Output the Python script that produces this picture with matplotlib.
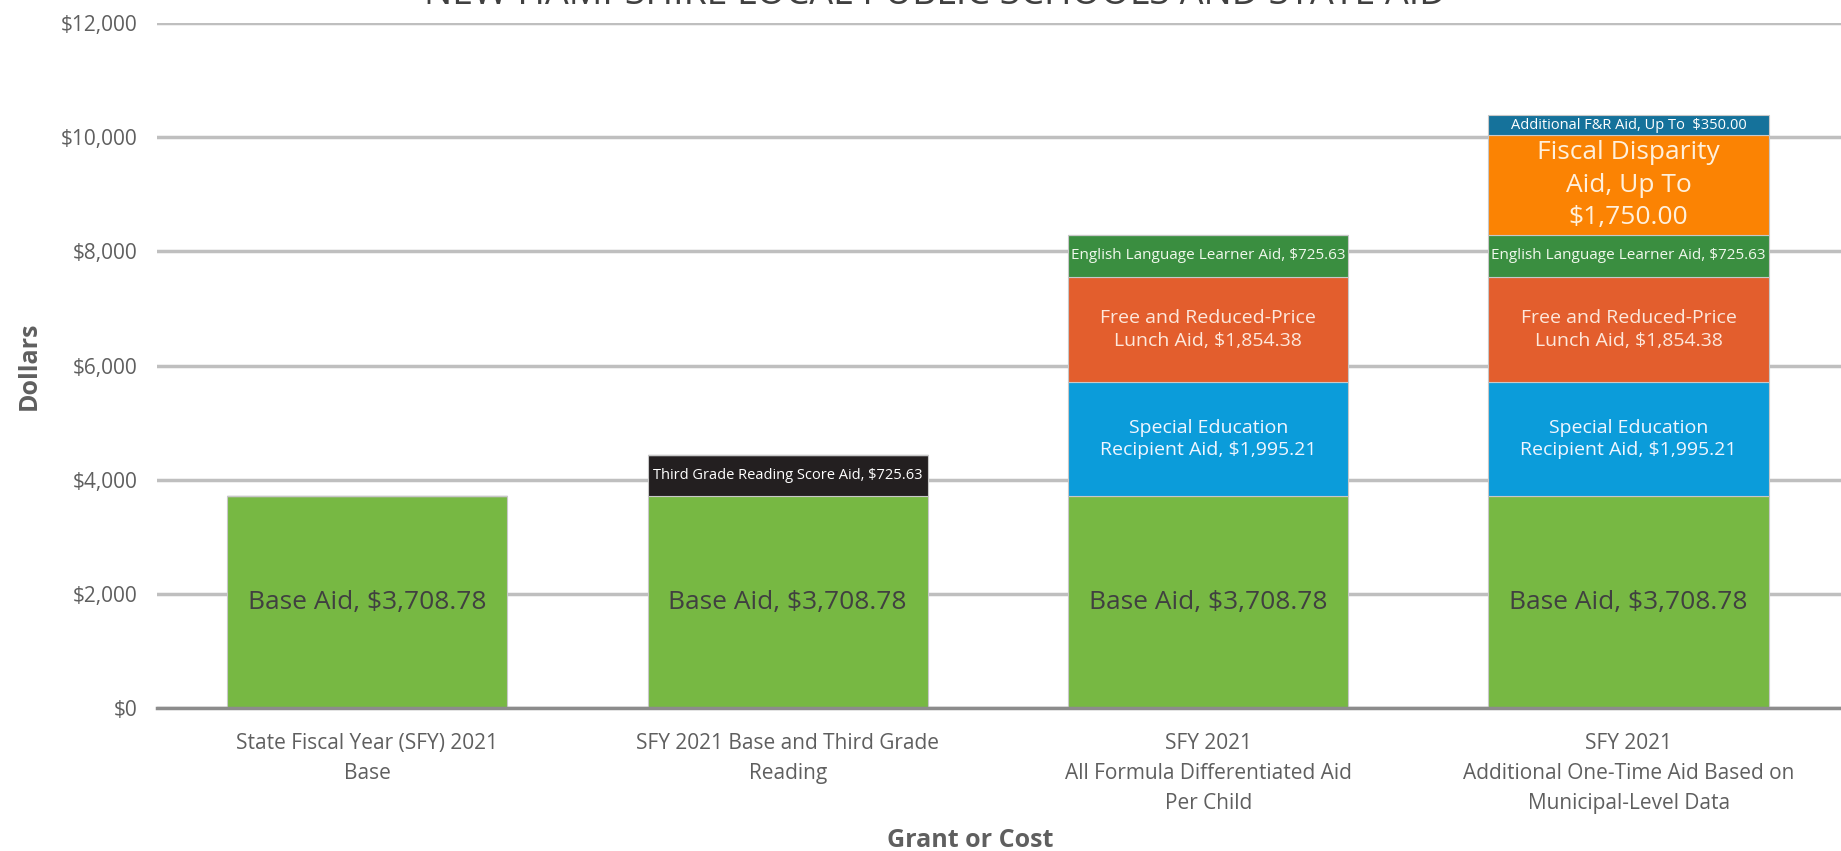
import matplotlib.pyplot as plt
import numpy as np

# categories and segment values (dollars per pupil)
categories = ["State Fiscal Year (SFY) 2021\nBase",
              "SFY 2021 Base and Third Grade\nReading",
              "SFY 2021\nAll Formula Differentiated Aid\nPer Child",
              "SFY 2021\nAdditional One-Time Aid Based on\nMunicipal-Level Data"]
base_aid = [3708.78, 3708.78, 3708.78, 3708.78]
third_grade = [0, 725.63, 0, 0]
special_ed = [0, 0, 1995.21, 1995.21]
free_reduced = [0, 0, 1854.38, 1854.38]
ell_aid = [0, 0, 725.63, 725.63]
fiscal_disparity = [0, 0, 0, 1750.00]
additional_fr = [0, 0, 0, 350.00]

yticks = [0, 2000, 4000, 6000, 8000, 10000, 12000]

plt.rcParams['font.family'] = ['Open Sans', 'DejaVu Sans']
grey = "#5f5f5f"

fig = plt.figure(figsize=(18.41, 8.51), dpi=100)
ax = fig.add_axes([0.0853, 0.168, 0.9147, 0.805])

x = np.arange(len(categories))
w = 0.667

segments = [
    (base_aid, "#77b843", "Base Aid, $3,708.78", 19, "#404040", 1.2),
    (third_grade, "#231f20", "Third Grade Reading Score Aid, $725.63", 10.5, "white", 1.2),
    (special_ed, "#0b9cda", "Special Education\nRecipient Aid, $1,995.21", 14, "#f0f6ff", 1.3),
    (free_reduced, "#e35e2d", "Free and Reduced-Price\nLunch Aid, $1,854.38", 14, "#fde8dc", 1.3),
    (ell_aid, "#3a8e40", "English Language Learner Aid, $725.63", 11, "#f0f8ec", 1.2),
    (fiscal_disparity, "#fb8303", "Fiscal Disparity\nAid, Up To\n$1,750.00", 19, "#fff0dc", 1.4),
    (additional_fr, "#15729b", "Additional F&R Aid, Up To  $350.00", 10.5, "white", 1.2),
]

bottom = np.zeros(len(categories))
for vals, color, label, fs, tcol, ls in segments:
    vals = np.array(vals)
    ax.bar(x, vals, w, bottom=bottom, color=color, edgecolor="#c8c8c8",
           linewidth=0.8, zorder=3)
    for i in range(len(x)):
        if vals[i] > 0:
            ax.text(x[i], bottom[i] + vals[i] / 2, label, ha="center", va="center",
                    fontsize=fs, color=tcol, zorder=4, linespacing=ls)
    bottom = bottom + vals

ax.set_xlim(-0.5, 3.505)
ax.set_ylim(0, 12000)
ax.set_yticks(yticks)
ax.set_yticklabels(["${:,}".format(v) for v in yticks], fontsize=15, color=grey)
ax.set_xticks(x)
ax.set_xticklabels(categories, fontsize=15, color=grey, linespacing=1.55)
ax.tick_params(axis="y", length=0, pad=14)
ax.tick_params(axis="x", length=0, pad=18)
ax.grid(axis="y", color="#bfbfbf", linewidth=2.5, zorder=0)
for s in ["top", "right", "left"]:
    ax.spines[s].set_visible(False)
ax.spines["bottom"].set_color("#8c8c8c")
ax.spines["bottom"].set_linewidth(2.5)
ax.spines["bottom"].set_zorder(5)

ax.set_ylabel("Dollars", fontsize=18, fontweight="bold", color=grey, labelpad=14)
fig.text(0.527, -0.002, "Grant or Cost", ha="center", va="bottom",
         fontsize=18, fontweight="bold", color=grey)
fig.text(0.508, 1 - 4 / 851, "NEW HAMPSHIRE LOCAL PUBLIC SCHOOLS AND STATE AID",
         ha="center", va="baseline", fontsize=27, color="#404040")

fig.savefig("out.png", dpi=100)
